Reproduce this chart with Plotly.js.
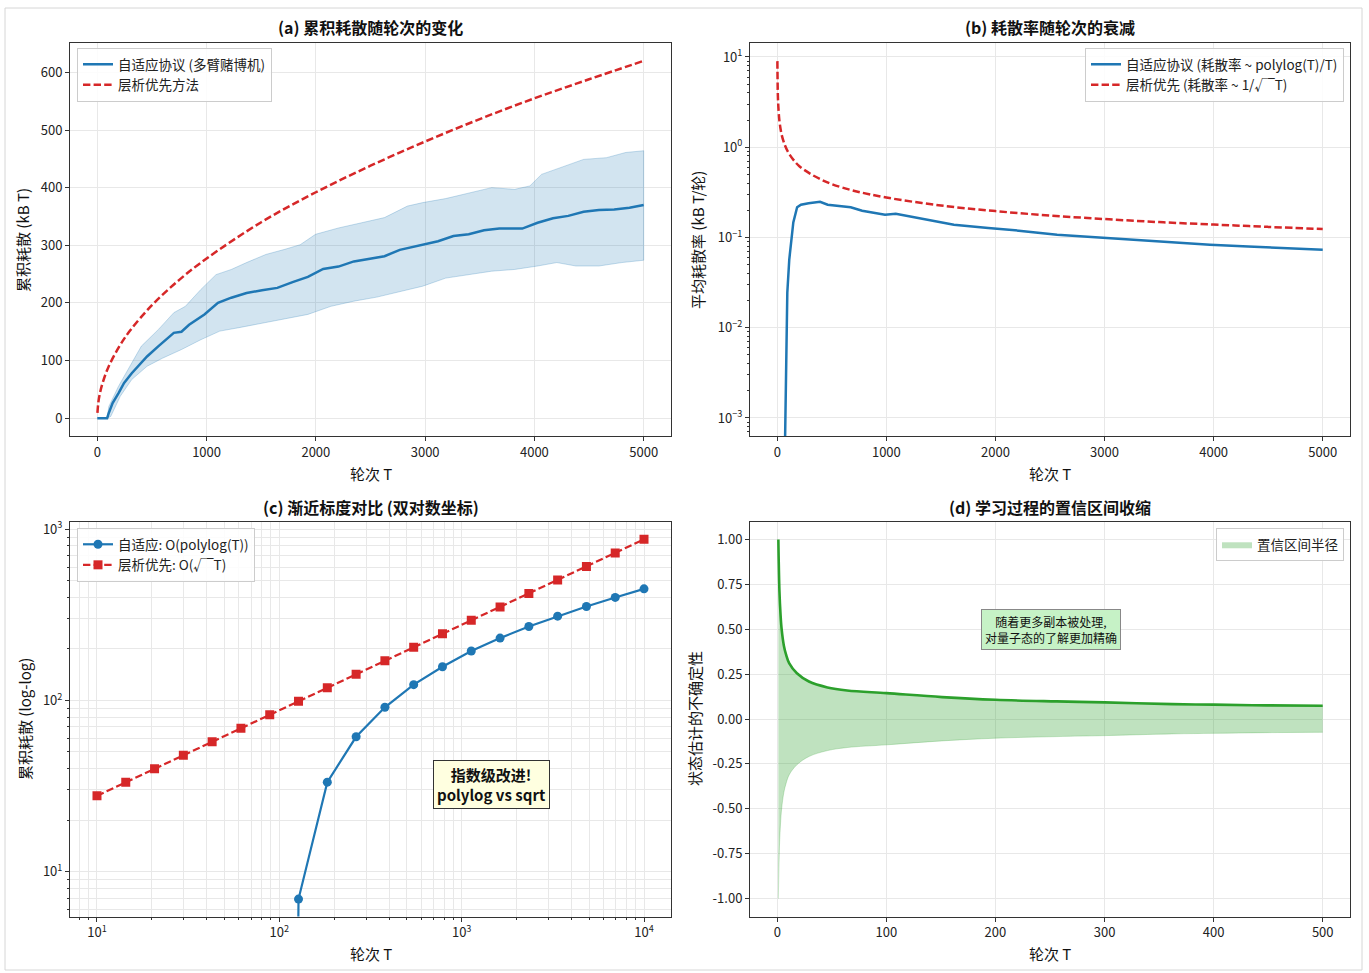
<!DOCTYPE html>
<html><head><meta charset="utf-8">
<script src="https://cdn.plot.ly/plotly-3.0.1.min.js"></script>
<style>body{margin:0;background:#fff}</style>
</head><body><div id="chart" style="width:1369px;height:973px"></div>
<script>
// ---------- (a) cumulative dissipation ----------
const aRedT = [1, 10, 25, 50, 100, 200, 300, 500, 750, 1000, 1500, 2000, 2500, 3000, 3500, 4000, 4500, 5000];
const aRedV = [9, 28, 44, 62, 88, 124, 152, 196, 240, 277, 340, 392, 438, 480, 519, 555, 588, 620];
const aBlueT = [0, 90, 105, 140, 193, 245, 315, 403, 455, 560, 700, 770, 840, 980, 1104, 1226, 1366, 1507, 1647, 1787, 1927, 2067, 2207, 2348, 2488, 2628, 2768, 2978, 3118, 3259, 3399, 3539, 3679, 3889, 4029, 4170, 4310, 4450, 4590, 4730, 4870, 5000];
const aBlueV = [0, 0, 9, 26, 43, 61, 78, 96, 107, 125, 148, 150, 162, 180, 200, 209, 217, 222, 226, 236, 245, 259, 263, 272, 277, 281, 292, 301, 307, 316, 319, 326, 329, 329, 339, 347, 351, 358, 361, 362, 365, 370];
const aUpT = [0, 90, 105, 193, 280, 403, 560, 700, 806, 946, 1086, 1226, 1366, 1542, 1717, 1857, 1997, 2207, 2418, 2628, 2838, 2978, 3188, 3399, 3609, 3819, 3959, 4065, 4240, 4450, 4660, 4835, 5000];
const aUpV = [0, 0, 20, 55, 84, 125, 154, 183, 194, 223, 249, 258, 270, 284, 293, 301, 319, 330, 339, 348, 368, 374, 381, 391, 400, 397, 403, 423, 435, 449, 452, 461, 464];
const aLoT = [0, 90, 123, 210, 315, 455, 596, 770, 946, 1121, 1296, 1507, 1717, 1927, 2137, 2348, 2558, 2768, 2978, 3188, 3399, 3609, 3819, 4029, 4205, 4380, 4590, 4800, 5000];
const aLoV = [0, 0, 3, 38, 67, 90, 104, 119, 136, 151, 157, 165, 172, 180, 194, 203, 210, 220, 229, 243, 249, 255, 258, 264, 270, 264, 264, 270, 274];

// ---------- (b) average dissipation rate ----------
const bRedT = [1, 5, 10, 20, 40, 70, 100, 150, 200, 300, 400, 500, 700, 1000, 1500, 2000, 2500, 3000, 3500, 4000, 4500, 5000];
const bRedV = [9.0, 3.9, 2.8, 1.95, 1.38, 1.05, 0.88, 0.72, 0.62, 0.51, 0.44, 0.39, 0.33, 0.277, 0.226, 0.196, 0.175, 0.16, 0.148, 0.139, 0.131, 0.124];
const bBlueT = [62, 80, 92, 110, 128, 147, 182, 217, 287, 392, 462, 673, 778, 988, 1086, 1338, 1619, 1934, 2214, 2565, 2915, 3266, 3616, 3966, 4317, 4667, 5000];
const bBlueV = [0.0001, 0.0068, 0.0245, 0.057, 0.096, 0.147, 0.216, 0.231, 0.240, 0.249, 0.231, 0.216, 0.198, 0.179, 0.183, 0.160, 0.138, 0.127, 0.119, 0.107, 0.100, 0.094, 0.088, 0.083, 0.0794, 0.0755, 0.073];

// ---------- (c) log-log scaling ----------
const cT = [10, 14.38, 20.69, 29.76, 42.81, 61.58, 88.59, 127.4, 183.3, 263.7, 379.3, 545.6, 784.8, 1129, 1624, 2336, 3360, 4833, 6952, 10000];
const cRed = [27.7, 33.3, 39.9, 47.8, 57.3, 68.7, 82.4, 98.8, 118.5, 142.1, 170.4, 204.3, 245.0, 293.8, 352.3, 422.4, 506.5, 607.4, 728.3, 875];
const cBlue = [1e-20, 1e-20, 1e-20, 1e-20, 1e-20, 1e-20, 1e-20, 6.9, 33.3, 61.3, 91.2, 123.7, 157.4, 194.4, 231.4, 270.5, 311, 354, 400, 449];

// ---------- (d) confidence interval ----------
const dT = [1, 2, 3, 4, 6, 8, 11, 18, 29, 46, 64, 100, 151, 200, 256, 300, 362, 400, 449, 500];
const dW = [1.0, 0.71, 0.58, 0.5, 0.41, 0.36, 0.31, 0.255, 0.209, 0.176, 0.159, 0.144, 0.122, 0.107, 0.098, 0.0925, 0.083, 0.080, 0.076, 0.074];

// tick labels
const logTickVals2 = [0.001, 0.01, 0.1, 1, 10];
const logTickText2 = ['10<sup>−3</sup>', '10<sup>−2</sup>', '10<sup>−1</sup>', '10<sup>0</sup>', '10<sup>1</sup>'];
const cxTickVals = [10, 100, 1000, 10000];
const cxTickText = ['10<sup>1</sup>', '10<sup>2</sup>', '10<sup>3</sup>', '10<sup>4</sup>'];
const cyTickVals = [10, 100, 1000];
const cyTickText = ['10<sup>1</sup>', '10<sup>2</sup>', '10<sup>3</sup>'];
const dyTickVals = [-1, -0.75, -0.5, -0.25, 0, 0.25, 0.5, 0.75, 1];
const dyTickText = ['-1.00', '-0.75', '-0.50', '-0.25', '0.00', '0.25', '0.50', '0.75', '1.00'];

function minorLog(lo, hi) { const v = []; for (let e = lo; e <= hi; e++) for (let m = 2; m <= 9; m++) v.push(m * Math.pow(10, e)); return v; }

const F = '"Noto Sans CJK SC", "Noto Sans", sans-serif';
const BLUE = '#1f77b4', RED = '#d62728', GREEN = '#2ca02c';
const DASH = '7.4px,3.2px';
const gridC = '#e8e8e8';
const W = 1369, H = 973;
const px = v => v / W, py = v => 1 - v / H;

const A = [px(70), px(671)], B = [px(750), px(1350)];
const YT = [py(436), py(43)], YB = [py(916.5), py(521.5)];

function ax(domain, anchor, extra) {
  return Object.assign({
    domain, anchor, showline: true, mirror: true, linecolor: '#333', linewidth: 1,
    ticks: 'outside', ticklen: 4, tickcolor: '#333', tickwidth: 1,
    showgrid: true, gridcolor: gridC, gridwidth: 1, zeroline: false,
    tickfont: {family: F, size: 13, color: '#222'}
  }, extra);
}

// band polygon for (a)
const aBandX = aUpT.concat(aLoT.slice().reverse());
const aBandY = aUpV.concat(aLoV.slice().reverse());
const dLow = dW.map(v => -v);

const traces = [
  {x: aBandX, y: aBandY, xaxis: 'x', yaxis: 'y', type: 'scatter', mode: 'lines', fill: 'toself',
   fillcolor: 'rgba(31,119,180,0.2)', line: {color: 'rgba(31,119,180,0.25)', width: 1}, showlegend: false, hoverinfo: 'skip'},
  {x: aBlueT, y: aBlueV, xaxis: 'x', yaxis: 'y', type: 'scatter', mode: 'lines', name: '自适应协议 (多臂赌博机)',
   line: {color: BLUE, width: 2.5}, legend: 'legend'},
  {x: aRedT, y: aRedV, xaxis: 'x', yaxis: 'y', type: 'scatter', mode: 'lines', name: '层析优先方法',
   line: {color: RED, width: 2.5, dash: DASH, shape: 'spline'}, legend: 'legend'},

  {x: bBlueT, y: bBlueV, xaxis: 'x2', yaxis: 'y2', type: 'scatter', mode: 'lines', name: '自适应协议 (耗散率 ~ polylog(T)/T)',
   line: {color: BLUE, width: 2.5}, legend: 'legend2'},
  {x: bRedT, y: bRedV, xaxis: 'x2', yaxis: 'y2', type: 'scatter', mode: 'lines', name: '层析优先 (耗散率 ~ 1/√‾T)',
   line: {color: RED, width: 2.5, dash: DASH, shape: 'spline'}, legend: 'legend2'},

  {x: cT, y: cBlue, xaxis: 'x3', yaxis: 'y3', type: 'scatter', mode: 'lines+markers', name: '自适应: O(polylog(T))',
   line: {color: BLUE, width: 2.2}, marker: {color: BLUE, size: 9, symbol: 'circle'}, legend: 'legend3'},
  {x: cT, y: cRed, xaxis: 'x3', yaxis: 'y3', type: 'scatter', mode: 'lines+markers', name: '层析优先: O(√‾T)',
   line: {color: RED, width: 2.2, dash: DASH}, marker: {color: RED, size: 9, symbol: 'square'}, legend: 'legend3'},

  {x: dT, y: dLow, xaxis: 'x4', yaxis: 'y4', type: 'scatter', mode: 'lines', showlegend: false,
   line: {color: 'rgba(44,160,44,0.3)', width: 0.8, shape: 'spline'}, hoverinfo: 'skip'},
  {x: dT, y: dW, xaxis: 'x4', yaxis: 'y4', type: 'scatter', mode: 'lines', fill: 'tonexty', name: '置信区间半径',
   fillcolor: 'rgba(44,160,44,0.3)', line: {color: 'rgba(44,160,44,0.3)', width: 0, shape: 'spline'}, legend: 'legend4'},
  {x: dT, y: dW, xaxis: 'x4', yaxis: 'y4', type: 'scatter', mode: 'lines', showlegend: false,
   line: {color: GREEN, width: 2.6, shape: 'spline'}}
];

const legBase = {bgcolor: 'rgba(255,255,255,0.85)', bordercolor: '#cccccc', borderwidth: 1,
  font: {family: F, size: 13.5, color: '#222'}, yanchor: 'top', tracegroupgap: 0};

const ann = (text, x, y, size, extra) => Object.assign({text, x, y, xref: 'paper', yref: 'paper', showarrow: false,
  font: {family: F, size, color: '#111'}, xanchor: 'center', yanchor: 'middle'}, extra || {});

const layout = {
  width: W, height: H, margin: {l: 0, r: 0, t: 0, b: 0, pad: 0},
  paper_bgcolor: '#fff', plot_bgcolor: '#fff', font: {family: F, color: '#222'},
  xaxis: ax(A, 'y', {range: [-250, 5250], tick0: 0, dtick: 1000}),
  yaxis: ax(YT, 'x', {range: [-31, 651], tick0: 0, dtick: 100}),
  xaxis2: ax(B, 'y2', {range: [-250, 5250], tick0: 0, dtick: 1000}),
  yaxis2: ax(YT, 'x2', {type: 'log', range: [-3.2, 1.155], tickvals: logTickVals2, ticktext: logTickText2,
    minor: {tickvals: minorLog(-4, 1), ticks: 'outside', ticklen: 2.5, tickcolor: '#333', showgrid: false}}),
  xaxis3: ax(A, 'y3', {type: 'log', range: [0.852, 4.148], tickvals: cxTickVals, ticktext: cxTickText,
    minor: {tickvals: minorLog(0, 4), ticks: 'outside', ticklen: 2.5, tickcolor: '#333', showgrid: true, gridcolor: gridC}}),
  yaxis3: ax(YB, 'x3', {type: 'log', range: [0.737, 3.046], tickvals: cyTickVals, ticktext: cyTickText,
    minor: {tickvals: minorLog(0, 3), ticks: 'outside', ticklen: 2.5, tickcolor: '#333', showgrid: true, gridcolor: gridC}}),
  xaxis4: ax(B, 'y4', {range: [-25, 525], tick0: 0, dtick: 100}),
  yaxis4: ax(YB, 'x4', {range: [-1.1, 1.1], tickvals: dyTickVals, ticktext: dyTickText}),
  legend: Object.assign({}, legBase, {x: px(77), y: py(48), xanchor: 'left'}),
  legend2: Object.assign({}, legBase, {x: px(1344), y: py(48), xanchor: 'right'}),
  legend3: Object.assign({}, legBase, {x: px(77), y: py(528), xanchor: 'left'}),
  legend4: Object.assign({}, legBase, {x: px(1344), y: py(528), xanchor: 'right'}),
  shapes: [{type: 'rect', xref: 'paper', yref: 'paper', x0: px(5), x1: px(1362), y0: py(970), y1: py(8),
    line: {color: '#d6d6d6', width: 1}, fillcolor: 'rgba(0,0,0,0)', layer: 'below'}],
  annotations: [
    ann('<b>(a) 累积耗散随轮次的变化</b>', px(370.5), py(27), 16),
    ann('<b>(b) 耗散率随轮次的衰减</b>', px(1050), py(27), 16),
    ann('<b>(c) 渐近标度对比 (双对数坐标)</b>', px(370.5), py(507), 16),
    ann('<b>(d) 学习过程的置信区间收缩</b>', px(1050), py(507), 16),
    ann('轮次 T', px(370.5), py(473), 15),
    ann('轮次 T', px(1050), py(473), 15),
    ann('轮次 T', px(370.5), py(953), 15),
    ann('轮次 T', px(1050), py(953), 15),
    ann('累积耗散 (kB T)', px(22), py(240), 15, {textangle: -90}),
    ann('平均耗散率 (kB T/轮)', px(697), py(240), 15, {textangle: -90}),
    ann('累积耗散 (log-log)', px(24), py(719), 15, {textangle: -90}),
    ann('状态估计的不确定性', px(694), py(719), 15, {textangle: -90}),
    ann('<b>指数级改进!<br>polylog vs sqrt</b>', px(491), py(784), 15,
      {bgcolor: '#ffffe0', bordercolor: '#333', borderwidth: 1, borderpad: 3}),
    ann('随着更多副本被处理,<br>对量子态的了解更加精确', px(1051), py(629), 12,
      {bgcolor: '#c6f2c6', bordercolor: '#888', borderwidth: 1, borderpad: 3})
  ]
};

Plotly.newPlot('chart', traces, layout, {displayModeBar: false, staticPlot: true});
</script></body></html>
